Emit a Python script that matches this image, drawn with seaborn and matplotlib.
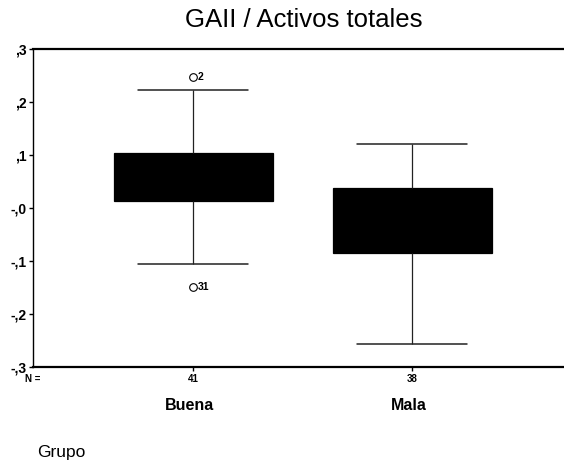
import numpy as np
import pandas as pd
import matplotlib
matplotlib.use("Agg")
import matplotlib.pyplot as plt
import matplotlib.transforms as mtransforms
import seaborn as sns

# ---- data ----
groups = ["Buena", "Mala"]
n_labels = ["41", "38"]
buena_vals = [-0.149, -0.106, 0.014, 0.014, 0.060, 0.103, 0.103, 0.223, 0.247]
mala_vals = [-0.256, -0.085, -0.020, 0.037, 0.121]
outlier_ids = ["2", "31"]
outlier_vals = [0.247, -0.149]
outlier_group = ["Buena", "Buena"]
yticks = [0.3, 0.2, 0.1, 0.0, -0.1, -0.2, -0.3]
ytick_labels = [",3", ",2", ",1", "-,0", "-,1", "-,2", "-,3"]
title = "GAII / Activos totales"
xlabel = "Grupo"

df = pd.DataFrame({
    "Grupo": ["Buena"] * len(buena_vals) + ["Mala"] * len(mala_vals),
    "valor": buena_vals + mala_vals,
})

sns.set_theme(style="white")
plt.rcParams["font.family"] = ["Liberation Sans", "DejaVu Sans"]
plt.rcParams["text.color"] = "black"
plt.rcParams["xtick.color"] = "black"
plt.rcParams["ytick.color"] = "black"

W, H = 564, 466
fig = plt.figure(figsize=(W / 100, H / 100), dpi=100)
ax = fig.add_axes([33 / W, 1 - 367 / H, (W - 33) / W, (367 - 49) / H])

sns.boxplot(
    data=df, x="Grupo", y="valor", order=groups, ax=ax,
    width=0.726, color="black", linecolor="black", linewidth=0.9,
    whis=1.5, saturation=1,
    capwidths=0.5,
    flierprops=dict(marker="o", markerfacecolor="none", markeredgecolor="black",
                    markersize=5.5, markeredgewidth=0.8),
    whiskerprops=dict(color="#222222", linewidth=0.9),
    capprops=dict(color="#222222", linewidth=1.1),
    medianprops=dict(color="black"),
)

# outlier case labels
for lab, v, g in zip(outlier_ids, outlier_vals, outlier_group):
    ax.annotate(lab, xy=(groups.index(g), v), xytext=(3.5, 0), textcoords="offset points",
                ha="left", va="center", fontsize=7.5, fontweight="bold", color="black")

ax.set_xlim(-0.7306, 1.694)
ax.set_ylim(-0.3, 0.3)
ax.set_yticks(yticks)
ax.set_yticklabels(ytick_labels, fontsize=10, fontweight="bold", color="black")
ax.set_xticks(range(len(groups)))
ax.set_xticklabels(n_labels, fontsize=7, fontweight="bold", color="black")
ax.tick_params(axis="y", direction="out", length=3, width=1, pad=1.5, left=True, colors="black")
ax.tick_params(axis="x", direction="out", length=3, width=1, pad=2, bottom=True, colors="black")
ax.set_xlabel("")
ax.set_ylabel("")

for s in ["top", "bottom", "left"]:
    ax.spines[s].set_visible(True)
    ax.spines[s].set_color("black")
ax.spines["top"].set_linewidth(1.6)
ax.spines["bottom"].set_linewidth(1.6)
ax.spines["left"].set_linewidth(1.0)
ax.spines["right"].set_visible(False)

# category labels below the N row
trans = mtransforms.blended_transform_factory(ax.transData, fig.transFigure)
for i, g in enumerate(groups):
    ax.text(i - 0.015, 1 - 405 / H, g, transform=trans, ha="center", va="center",
            fontsize=11.5, fontweight="bold", color="black")

fig.text(33 / W, 1 - 379 / H, "N =", ha="center", va="center", fontsize=7, fontweight="bold", color="black")
fig.text(37 / W, 1 - 452 / H, xlabel, ha="left", va="center", fontsize=12.5, color="black")
fig.text(304 / W, 1 - 20 / H, title, ha="center", va="center", fontsize=18.5, color="black")

fig.savefig("out.png", dpi=100)
